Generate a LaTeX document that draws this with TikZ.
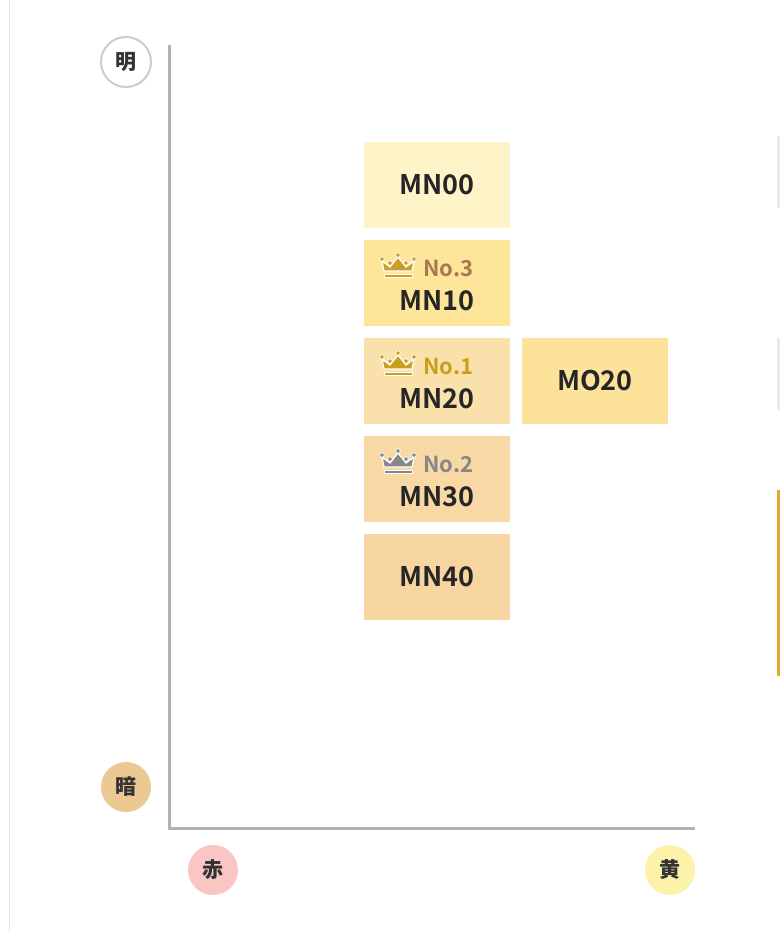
\documentclass[tikz,border=0pt]{standalone}
\usepackage{fontspec}
\setmainfont{Noto Sans CJK JP}[BoldFont={Noto Sans CJK JP Bold}]
\newfontfamily\cjk{Noto Sans CJK JP}
\definecolor{goldA}{RGB}{200,160,40}
\definecolor{brownT}{RGB}{168,118,80}
\definecolor{goldB}{RGB}{200,160,30}
\definecolor{greyC}{RGB}{135,135,135}
\definecolor{barGold}{RGB}{222,170,50}
\begin{document}
\begin{tikzpicture}[x=1pt,y=-1pt,
 box/.style={minimum width=146pt,minimum height=86pt,inner sep=0pt,font=\bfseries\fontsize{27}{27}\selectfont,text=black!85},
 circ/.style={circle,minimum size=50pt,inner sep=0pt,font=\cjk\bfseries\fontsize{21}{21}\selectfont,text=black!80},
 axis/.style={draw=black!30,line width=3pt},
 rank/.style={font=\bfseries\fontsize{22}{22}\selectfont,inner sep=0pt}]
\useasboundingbox (0,0) rectangle (780,932);
\draw[black!10,line width=1pt] (9,0) -- (9,932);
\fill[black!8] (777,136) rectangle (780,208);
\fill[black!8] (777,338) rectangle (780,410);
\fill[barGold] (777,490) rectangle (780,676);
\coordinate (top) at (169,45);
\coordinate (org) at (169,828);
\coordinate (right) at (695,828);
\draw[axis] (top) -- (org) -- (right);
\node[circ,draw=black!20,line width=2pt,fill=white] (ming) at (126,62) {明};
\node[circ,fill={rgb,255:red,236;green,200;blue,146}] (an) at (126,787) {暗};
\node[circ,fill={rgb,255:red,250;green,198;blue,196}] (aka) at (213,870) {赤};
\node[circ,fill={rgb,255:red,253;green,242;blue,170}] (ki) at (670,870) {黄};
\node[box,fill={rgb,255:red,255;green,244;blue,200}] (mn00) at (437,185) {MN00};
\node[box,fill={rgb,255:red,253;green,229;blue,154}] (mn10) at (437,283) {};
\node[box,fill={rgb,255:red,250;green,224;blue,170}] (mn20) at (437,381) {};
\node[box,fill={rgb,255:red,248;green,217;blue,165}] (mn30) at (437,479) {};
\node[box,fill={rgb,255:red,247;green,213;blue,160}] (mn40) at (437,577) {MN40};
\node[box,fill={rgb,255:red,253;green,227;blue,154}] (mo20) at (595,381) {MO20};
\foreach \n/\lab/\rk/\cc/\tc in {mn10/MN10/No.3/goldA/brownT,
  mn20/MN20/No.1/goldB/goldB,
  mn30/MN30/No.2/greyC/greyC}{
  \node[box,anchor=center] at ([yshift=-18]\n.center) {\lab};
  \node[rank,text=\tc,anchor=west] (r\n) at ([xshift=-14,yshift=15]\n.center) {\rk};
  \begin{scope}[shift={([xshift=-39,yshift=16]\n.center)}]
   \fill[\cc,draw=white,line width=1.2pt] (-14,4) -- (-16,-6) -- (-8,0) -- (0,-10) -- (8,0) -- (16,-6) -- (14,4) -- cycle;
   \fill[\cc,draw=white,line width=1pt] (-14,7) rectangle (14,10);
   \foreach \p in {(-16,-8),(0,-12),(16,-8),(-8,-4),(8,-4)} \fill[\cc,draw=white,line width=0.8pt] \p circle (2.3);
  \end{scope}
}
\end{tikzpicture}
\end{document}
